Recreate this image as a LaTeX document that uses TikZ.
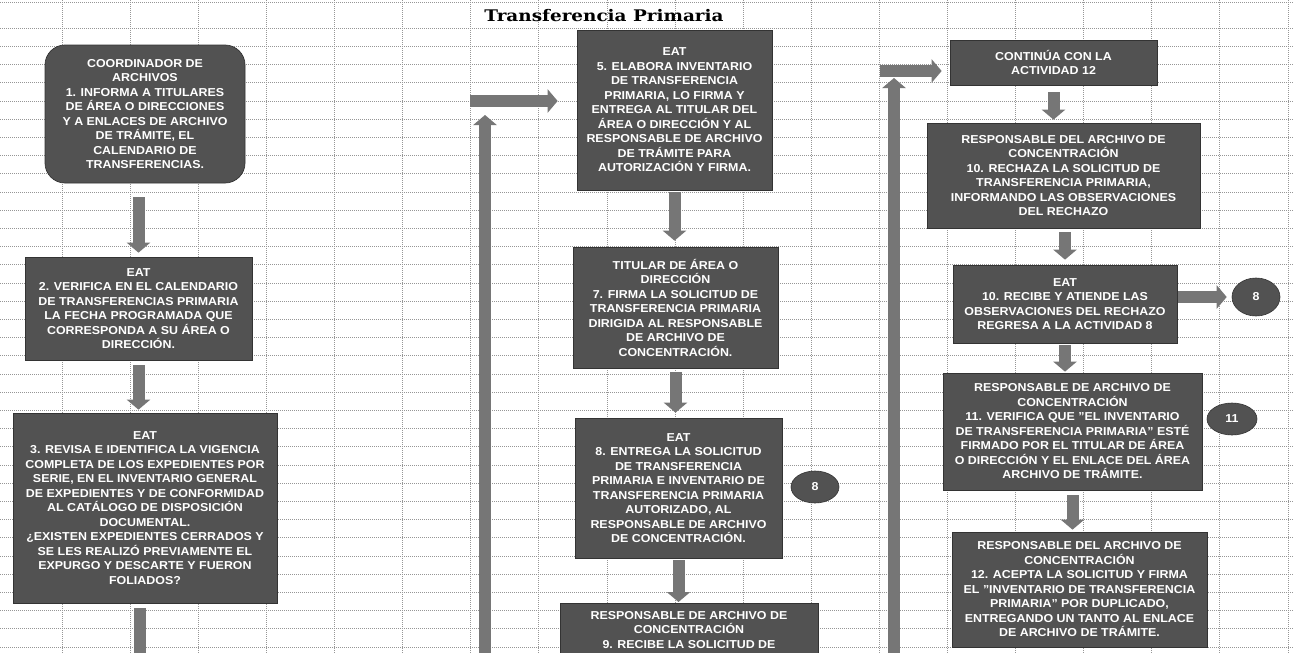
\documentclass[tikz,border=0pt]{standalone}
\usepackage{fontspec}
\setmainfont{Liberation Sans}[FakeStretch=1.08]
\newfontfamily\titlefont{DejaVu Serif}[FakeStretch=1.15]
\usetikzlibrary{arrows.meta,shapes.geometric,calc}
\definecolor{boxgray}{RGB}{82,82,82}
\definecolor{arrgray}{RGB}{118,118,118}
\definecolor{gridgray}{RGB}{150,150,150}
\begin{document}
\begin{tikzpicture}[x=1pt,y=-1pt,
  box/.style={draw=black!80, line width=0.7pt, fill=boxgray, text=white,
    font=\bfseries\fontsize{11.5}{14.5}\selectfont, align=center, inner sep=0pt},
  roundbox/.style={box, rounded corners=20pt},
  oval/.style={ellipse, draw=black!80, line width=0.6pt, fill=boxgray, text=white,
    font=\bfseries\fontsize{11.5}{12}\selectfont, inner sep=0pt},
  blk/.style={line width=12pt, draw=arrgray, -{Triangle[width=23pt,length=10pt,fill=arrgray]}},
  gridline/.style={draw=gridgray, line width=0.5pt, dash pattern=on 1pt off 1pt}
]
\useasboundingbox (0,0) rectangle (1293,653);
\clip (0,0) rectangle (1293,653);
\fill[white] (0,0) rectangle (1293,653);
% grid
\draw[gridline] (0,2) -- (1293,2);
\foreach \k in {0,...,34} { \draw[gridline] (0,28+18.2*\k) -- (1293,28+18.2*\k); }
\foreach \k in {0,...,18} { \draw[gridline] (62+68.1*\k,0) -- (62+68.1*\k,653); }
% title
\node[font=\titlefont\bfseries\fontsize{16}{18}\selectfont] (title) at (604,16) {Transferencia Primaria};
% column 1
\node[roundbox, minimum width=200, minimum height=138] (b1) at (145,114)
 {COORDINADOR DE\\ARCHIVOS\\1. INFORMA A TITULARES\\DE ÁREA O DIRECCIONES\\Y A ENLACES DE ARCHIVO\\DE TRÁMITE, EL\\CALENDARIO DE\\TRANSFERENCIAS.};
\node[box, minimum width=227, minimum height=103] (b2) at (138.5,308.5)
 {EAT\\2. VERIFICA EN EL CALENDARIO\\DE TRANSFERENCIAS PRIMARIA\\LA FECHA PROGRAMADA QUE\\CORRESPONDA A SU ÁREA O\\DIRECCIÓN.};
\node[box, minimum width=264, minimum height=190] (b3) at (145,508)
 {EAT\\3. REVISA E IDENTIFICA LA VIGENCIA\\COMPLETA DE LOS EXPEDIENTES POR\\SERIE, EN EL INVENTARIO GENERAL\\DE EXPEDIENTES Y DE CONFORMIDAD\\AL CATÁLOGO DE DISPOSICIÓN\\DOCUMENTAL.\\¿EXISTEN EXPEDIENTES CERRADOS Y\\SE LES REALIZÓ PREVIAMENTE EL\\EXPURGO Y DESCARTE Y FUERON\\FOLIADOS?};
\coordinate (e1) at (140,664);
% column 2
\node[box, minimum width=195, minimum height=160] (b4) at (674.5,110)
 {EAT\\5. ELABORA INVENTARIO\\DE TRANSFERENCIA\\PRIMARIA, LO FIRMA Y\\ENTREGA AL TITULAR DEL\\ÁREA O DIRECCIÓN Y AL\\RESPONSABLE DE ARCHIVO\\DE TRÁMITE PARA\\AUTORIZACIÓN Y FIRMA.};
\node[box, minimum width=205, minimum height=121] (b5) at (675.5,307.5)
 {TITULAR DE ÁREA O\\DIRECCIÓN\\7. FIRMA LA SOLICITUD DE\\TRANSFERENCIA PRIMARIA\\DIRIGIDA AL RESPONSABLE\\DE ARCHIVO DE\\CONCENTRACIÓN.};
\node[box, minimum width=207, minimum height=140] (b6) at (678.5,488)
 {EAT\\8. ENTREGA LA SOLICITUD\\DE TRANSFERENCIA\\PRIMARIA E INVENTARIO DE\\TRANSFERENCIA PRIMARIA\\AUTORIZADO, AL\\RESPONSABLE DE ARCHIVO\\DE CONCENTRACIÓN.};
\node[oval, minimum width=48, minimum height=32] (o1) at (815,487) {8};
\node[box, minimum width=258, anchor=north, inner ysep=8pt] (b7) at (689,603)
 {RESPONSABLE DE ARCHIVO DE\\CONCENTRACIÓN\\9. RECIBE LA SOLICITUD DE};
\coordinate (v2s) at (485,664);
\coordinate (v2e) at (485,115);
\coordinate (h2s) at (470,101);
% column 3
\node[box, minimum width=207, minimum height=45] (c1) at (1053.5,62.5)
 {CONTINÚA CON LA\\ACTIVIDAD 12};
\node[box, minimum width=273, minimum height=105] (c2) at (1063.5,175.5)
 {RESPONSABLE DEL ARCHIVO DE\\CONCENTRACIÓN\\10. RECHAZA LA SOLICITUD DE\\TRANSFERENCIA PRIMARIA,\\INFORMANDO LAS OBSERVACIONES\\DEL RECHAZO};
\node[box, minimum width=224, minimum height=78] (c3) at (1065,304)
 {EAT\\10. RECIBE Y ATIENDE LAS\\OBSERVACIONES DEL RECHAZO\\REGRESA A LA ACTIVIDAD 8};
\node[oval, minimum width=48, minimum height=38] (o2) at (1256,297) {8};
\node[box, minimum width=259, minimum height=117] (c4) at (1072.5,431.5)
 {RESPONSABLE DE ARCHIVO DE\\CONCENTRACIÓN\\11. VERIFICA QUE "EL INVENTARIO\\DE TRANSFERENCIA PRIMARIA" ESTÉ\\FIRMADO POR EL TITULAR DE ÁREA\\O DIRECCIÓN Y EL ENLACE DEL ÁREA\\ARCHIVO DE TRÁMITE.};
\node[oval, minimum width=50, minimum height=32] (o3) at (1232,419) {11};
\node[box, minimum width=255, minimum height=115] (c5) at (1079.5,589.5)
 {RESPONSABLE DEL ARCHIVO DE\\CONCENTRACIÓN\\12. ACEPTA LA SOLICITUD Y FIRMA\\EL "INVENTARIO DE TRANSFERENCIA\\PRIMARIA" POR DUPLICADO,\\ENTREGANDO UN TANTO AL ENLACE\\DE ARCHIVO DE TRÁMITE.};
\coordinate (v3s) at (894,664);
\coordinate (v3e) at (894,78);
\coordinate (h3s) at (880,71);
% arrows
\draw[blk, shorten <=14pt, shorten >=4pt] (b2.north |- b1.south) -- (b2.north);
\draw[blk, shorten <=5pt, shorten >=3pt] (b2.south) -- (b2.south |- b3.north);
\draw[blk, shorten <=5pt] (b3.south -| e1) -- (e1);
\draw[blk, shorten <=2pt, shorten >=6pt] (b4.south) -- (b4.south |- b5.north);
\draw[blk, shorten <=4pt, shorten >=5pt] (b5.south) -- (b5.south |- b6.north);
\draw[blk, shorten <=2pt, shorten >=1pt] (b6.south) -- (b6.south |- b7.north);
\draw[blk] (v2s) -- (v2e);
\draw[blk, shorten >=19pt] (h2s) -- (h2s -| b4.west);
\draw[blk] (v3s) -- (v3e);
\draw[blk, shorten >=8pt] (h3s) -- (h3s -| c1.west);
\draw[blk, shorten <=7pt, shorten >=3pt] (c1.south) -- (c1.south |- c2.north);
\draw[blk, shorten <=4pt, shorten >=5pt] (c3.north |- c2.south) -- (c3.north);
\draw[blk, shorten <=2pt, shorten >=1pt] (c3.south) -- (c3.south |- c4.north);
\draw[blk, shorten <=5pt, shorten >=2pt] (c4.south) -- (c4.south |- c5.north);
\draw[blk, shorten <=1pt, shorten >=5pt] (c3.east |- o2.west) -- (o2.west);
\end{tikzpicture}
\end{document}
